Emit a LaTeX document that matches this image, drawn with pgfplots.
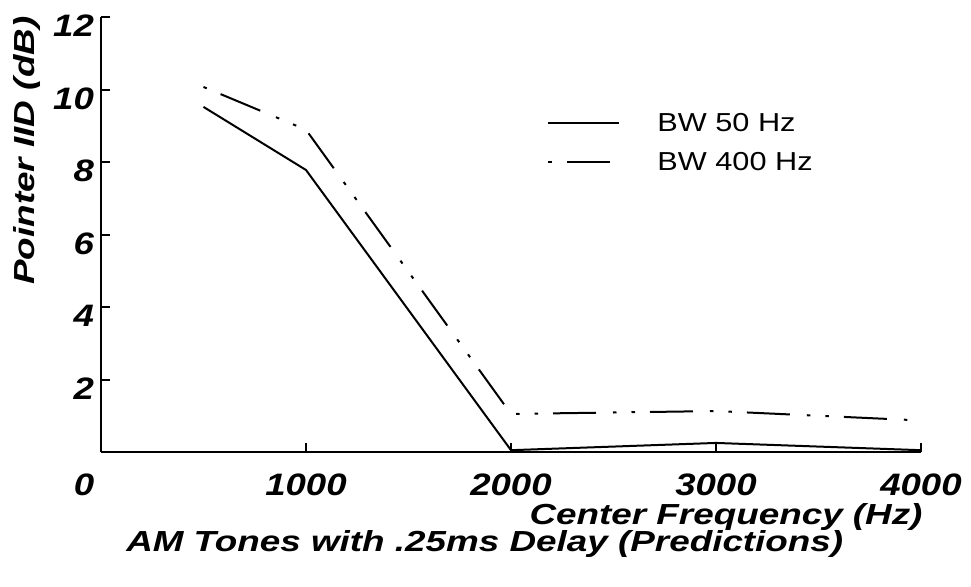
\documentclass[border=0pt]{standalone}
\usepackage{pgfplots}
\pgfplotsset{compat=1.18}
\usepackage{fontspec}
\setmainfont{Liberation Sans}[FakeStretch=1.18]
\newfontfamily\widesans{Liberation Sans}[FakeStretch=1.27]
\newcommand{\lblfont}{\widesans\bfseries\itshape\fontsize{14.5}{17}\selectfont}
\begin{document}
\begin{tikzpicture}
\useasboundingbox (-50.5pt,-67pt) rectangle (435pt,226pt);
\begin{axis}[
  scale only axis,
  width=410pt, height=217.5pt,
  xmin=0, xmax=4000, ymin=0, ymax=12,
  enlargelimits=false,
  axis x line=bottom, axis y line=left,
  axis line style={-, line width=1pt, black},
  every outer x axis line/.append style={-},
  every outer y axis line/.append style={-},
  tick align=inside,
  major tick length=4.5pt,
  tick style={line width=1pt, black},
  xtick={0,1000,2000,3000,4000},
  xticklabels={\makebox[0pt]{0\kern17pt},1000,2000,3000,4000},
  scaled x ticks=false,
  ytick={2,4,6,8,10,12},
  /pgf/number format/assume math mode=true,
  ticklabel style={font=\bfseries\itshape\fontsize{15.5}{18}\selectfont},
  xticklabel style={anchor=center, yshift=-16.6pt},
  yticklabel style={anchor=east, yshift=-4.5pt},
  xlabel={Center Frequency (Hz)},
  ylabel={Pointer IID (dB)},
  title={AM Tones with .25ms Delay (Predictions)},
  every axis title shift=0pt,
  xlabel style={at={(rel axis cs:1.0024,-0.1665)}, anchor=base east, inner sep=0pt, font=\lblfont},
  ylabel style={at={(rel axis cs:-0.0805,0.693)}, anchor=base, inner sep=0pt, font=\lblfont},
  title style={at={(rel axis cs:0.468,-0.2285)}, anchor=base, inner sep=0pt, font=\lblfont},
  legend image code/.code={\draw[#1] (0pt,0pt) -- (35.5pt,0pt); \path (0pt,0pt) (54pt,0pt);},
  legend style={draw=none, fill=none, at={(rel axis cs:0.544,0.7126)}, anchor=west,
    inner sep=0pt, row sep=10.2pt, column sep=0pt,
    font=\fontsize{13}{15}\selectfont,
    nodes={inner sep=0pt, text height=9.3pt, text depth=0pt}},
  legend cell align=left,
]
\addplot[black, line width=1pt] coordinates {(500,9.52) (1000,7.78) (2000,0.05) (3000,0.25) (4000,0.05)};
\addlegendentry{BW 50 Hz}
\addplot[black, line width=1pt, dash pattern=on 1.75pt off 7.5pt on 21.5pt off 8.5pt on 1.75pt off 7.5pt] coordinates {(500,10.07) (1000,8.89) (2000,1.05) (3000,1.13) (4000,0.87)};
\addlegendentry{BW 400 Hz}
\end{axis}
\end{tikzpicture}
\end{document}
